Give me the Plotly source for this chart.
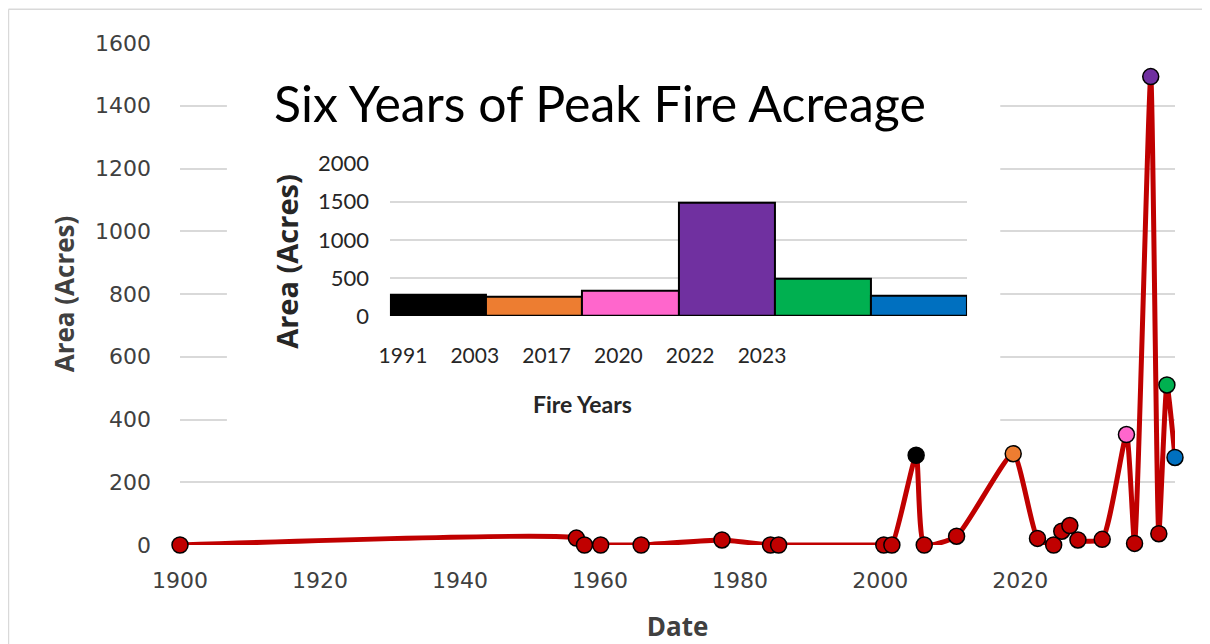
import plotly.graph_objects as go

# main series: fire area per year
years = [1900, 1949, 1950, 1952, 1957, 1967, 1973, 1974, 1987, 1988, 1991, 1992, 1996,
         2003, 2006, 2008, 2009, 2010, 2011, 2014, 2017, 2018, 2020, 2021, 2022, 2023]
acres = [0, 22, 0, 0, 0, 16, 0, 0, 0, 0, 286, 0, 28,
         291, 21, 0, 44, 62, 16, 18, 352, 5, 1493, 36, 510, 279]

# inset: six peak years
peak_years = ["1991", "2003", "2017", "2020", "2022", "2023"]
peak_acres = [285, 250, 338, 1492, 492, 263]
peak_colors = ["#000000", "#ED7D31", "#FF66CC", "#7030A0", "#00B050", "#0070C0"]

date_tick_labels = ["1900", "1920", "1940", "1960", "1980", "2000", "2020"]
area_ticks = [0, 200, 400, 600, 800, 1000, 1200, 1400, 1600]
inset_ticks = [0, 500, 1000, 1500, 2000]

RED = "#C00000"
GRID = "#D9D9D9"
# label spacing on the date axis as drawn in the source chart
TICK_STEP = 17.31

color_by_year = {int(y): c for y, c in zip(peak_years, peak_colors)}
marker_colors = [color_by_year.get(y, RED) for y in years]

fig = go.Figure()

fig.add_trace(go.Scatter(
    x=years, y=acres,
    mode="lines+markers",
    line=dict(color=RED, width=5, shape="spline", smoothing=0.5),
    marker=dict(size=16, color=marker_colors, line=dict(color="#000000", width=1.5)),
    cliponaxis=False,
    xaxis="x", yaxis="y",
    showlegend=False,
))

# inset bars
fig.add_trace(go.Bar(
    x=peak_years, y=peak_acres,
    marker=dict(color=peak_colors, line=dict(color="#000000", width=2)),
    xaxis="x2", yaxis="y2",
    showlegend=False,
))

# the inset's year labels sit on a narrower axis than the bars in the source
fig.add_trace(go.Scatter(
    x=peak_years, y=peak_acres,
    mode="markers", marker=dict(opacity=0),
    xaxis="x3", yaxis="y3",
    hoverinfo="skip", showlegend=False,
))

fig.update_layout(
    width=1202, height=636,
    margin=dict(l=172, r=35, t=35, b=99, autoexpand=False),
    paper_bgcolor="white", plot_bgcolor="rgba(0,0,0,0)",
    bargap=0,
    font=dict(family="DejaVu Sans", color="#404040"),
    xaxis=dict(
        range=[1900, 2023], automargin=False,
        tickvals=[1900 + i * TICK_STEP for i in range(len(date_tick_labels))],
        ticktext=date_tick_labels,
        showgrid=False, zeroline=False, showline=False,
        ticklabelstandoff=20,
        tickfont=dict(size=22, family="DejaVu Sans", color="#404040"),
        title=dict(text="<b>Date</b>", font=dict(size=26, family="Open Sans", color="#404040"),
                   standoff=29),
    ),
    yaxis=dict(
        range=[0, 1600], automargin=False,
        tickvals=area_ticks,
        showgrid=True, gridcolor=GRID, gridwidth=1.5,
        zeroline=False, showline=False,
        ticklabelstandoff=28,
        tickfont=dict(size=22, family="DejaVu Sans", color="#404040"),
        title=dict(text="<b>Area (Acres)</b>", font=dict(size=26, family="Open Sans", color="#404040"),
                   standoff=12),
    ),
    xaxis2=dict(
        domain=[0.211, 0.791], anchor="y2", automargin=False,
        type="category",
        showgrid=False, zeroline=False, showline=False,
        showticklabels=False,
    ),
    yaxis2=dict(
        domain=[0.4563, 0.7596], anchor="x2", automargin=False,
        range=[0, 2000],
        tickvals=inset_ticks,
        showgrid=True, gridcolor=GRID, gridwidth=1.5,
        zeroline=False, showline=False,
        ticklabelstandoff=20,
        tickfont=dict(size=22, family="Lato", color="#262626"),
    ),
    xaxis3=dict(
        domain=[0.188, 0.621], anchor="y3", automargin=False,
        type="category", range=[-0.5, 5.5],
        showgrid=False, zeroline=False, showline=False,
        ticklabelstandoff=25,
        tickfont=dict(size=21, family="Lato", color="#262626"),
        title=dict(text="<b>Fire Years</b>", font=dict(size=23, family="Lato", color="#262626"),
                   standoff=30),
    ),
    yaxis3=dict(
        domain=[0.4563, 0.7596], anchor="x3", automargin=False,
        range=[0, 2000],
        showgrid=False, zeroline=False, showline=False, showticklabels=False,
    ),
    shapes=[
        # white panel behind the inset, hides main gridlines
        dict(type="rect", xref="x", yref="y",
             x0=1905.8, x1=2001.4, y0=366, y1=1530,
             fillcolor="white", line=dict(width=0), layer="between"),
        # outer chart border: top and left edges
        dict(type="line", xref="paper", yref="paper",
             x0=-0.1724, x1=1.3, y0=1.067, y1=1.067,
             line=dict(color=GRID, width=1.5), layer="below"),
        dict(type="line", xref="paper", yref="paper",
             x0=-0.1724, x1=-0.1724, y0=-0.6, y1=1.067,
             line=dict(color=GRID, width=1.5), layer="below"),
    ],
    annotations=[
        dict(text="Six Years of Peak Fire Acreage", xref="paper", yref="paper",
             x=0.422, y=0.880, xanchor="center", yanchor="middle", showarrow=False,
             font=dict(size=50, family="Lato", color="#000000")),
        dict(text="<b>Area (Acres)</b>", xref="paper", yref="paper",
             x=0.1075, y=0.566, xanchor="center", yanchor="middle", showarrow=False,
             textangle=-90,
             font=dict(size=29, family="Open Sans", color="#262626")),
    ],
)

fig.write_html("out.html")
